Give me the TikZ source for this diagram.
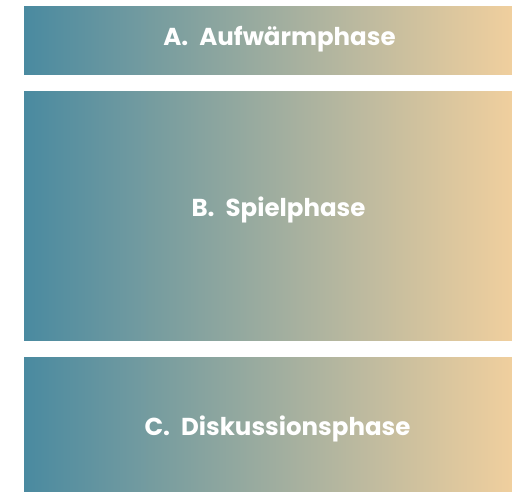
\documentclass[tikz,border=0pt]{standalone}
\usepackage{fontspec}
\setmainfont{Poppins}
\definecolor{cleft}{HTML}{4A8AA0}
\definecolor{cright}{HTML}{F0CF9E}
\tikzset{
  phase/.style={left color=cleft, right color=cright, draw=none, shading=axis},
  label/.style={text=white, font=\fontsize{24.5}{28}\selectfont\bfseries, inner sep=0pt, anchor=base}
}
\begin{document}
\begin{tikzpicture}[x=1pt,y=-1pt]
\useasboundingbox (0,0) rectangle (512,492);
\shade[phase] (24,7) rectangle (512,75);
\shade[phase] (24,92) rectangle (512,340);
\shade[phase] (24,357) rectangle (512,492);
\node[label] (a) at (279.5,46) {A.\hspace{0.45em}Aufwärmphase};
\node[label] (b) at (278.5,217) {B.\hspace{0.45em}Spielphase};
\node[label] (c) at (277.5,435) {C.\hspace{0.45em}Diskussionsphase};
\end{tikzpicture}
\end{document}
